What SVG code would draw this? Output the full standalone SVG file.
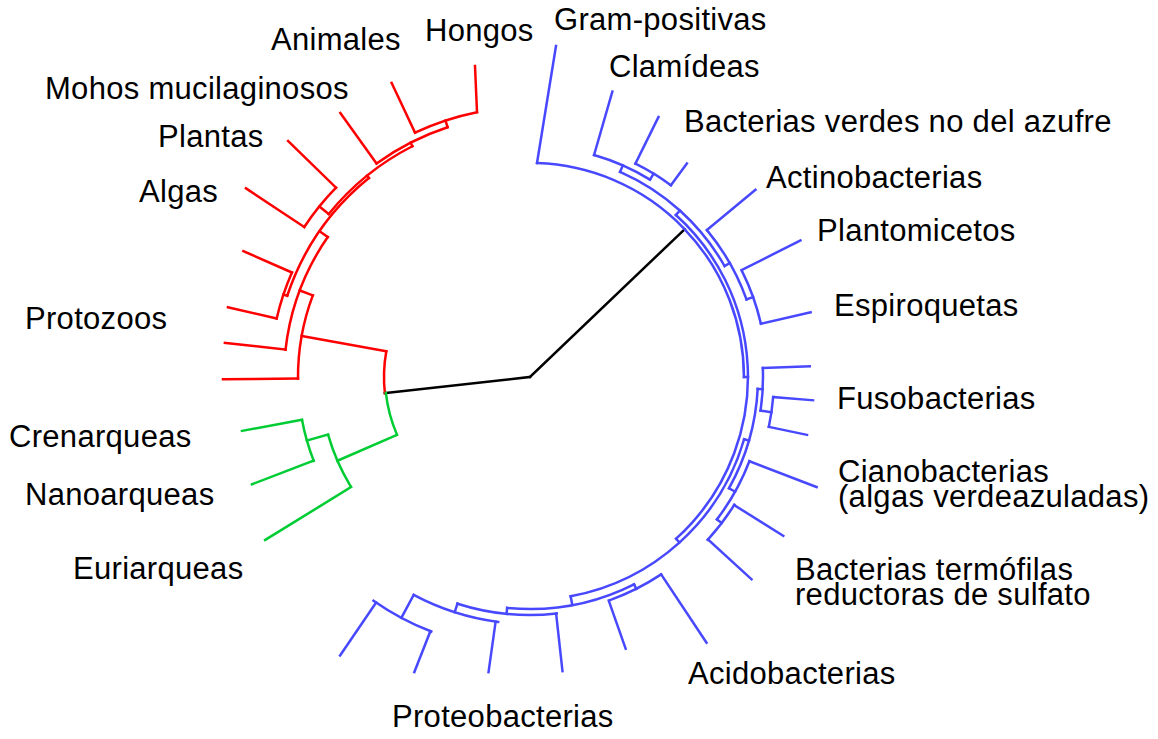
<svg xmlns="http://www.w3.org/2000/svg" width="1158" height="739" viewBox="0 0 1158 739">
<style>
.t{font-family:"Liberation Sans",Arial,sans-serif;font-size:31px;fill:#000;letter-spacing:0.3px}
.red{stroke:#ff0000}
.grn{stroke:#00cc33}
.blu{stroke:#4848ff}
.blk{stroke:#000}
</style>
<rect width="1158" height="739" fill="#fff"/>
<g id="connectors" transform="translate(530 377)" fill="none" stroke-width="2.5" stroke-linecap="square">
<g class="blk">
<line x1="0" x2="146" transform="rotate(173.7)"/>
<line x1="0" x2="214" transform="rotate(316.3)"/>
</g>
<g class="red">
<path pathLength="360" stroke-dasharray="16.5 999" transform="rotate(173.7)" d="M146 0A146 146 0 0 1 -146 0A146 146 0 0 1 146 0"/>
<line x1="146" x2="232" transform="rotate(190.2)"/>
<path pathLength="360" stroke-dasharray="21 999" transform="rotate(179.6)" d="M232 0A232 232 0 0 1 -232 0A232 232 0 0 1 232 0"/>
<line x1="232" x2="307" transform="rotate(179.6)"/>
<line x1="232" x2="246" transform="rotate(200.6)"/>
<path pathLength="360" stroke-dasharray="28.3 999" transform="rotate(186.4)" d="M246 0A246 246 0 0 1 -246 0A246 246 0 0 1 246 0"/>
<line x1="246" x2="307" transform="rotate(186.4)"/>
<line x1="246" x2="256" transform="rotate(214.7)"/>
<path pathLength="360" stroke-dasharray="32.5 999" transform="rotate(198.5)" d="M256 0A256 256 0 0 1 -256 0A256 256 0 0 1 256 0"/>
<line x1="256" x2="260" transform="rotate(198.5)"/>
<path pathLength="360" stroke-dasharray="10.7 999" transform="rotate(193)" d="M260 0A260 260 0 0 1 -260 0A260 260 0 0 1 260 0"/>
<line x1="260" x2="310" transform="rotate(193)"/>
<line x1="260" x2="313" transform="rotate(203.7)"/>
<line x1="256" x2="259" transform="rotate(231)"/>
<path pathLength="360" stroke-dasharray="24 999" transform="rotate(219)" d="M259 0A259 259 0 0 1 -259 0A259 259 0 0 1 259 0"/>
<line x1="259" x2="271" transform="rotate(219)"/>
<path pathLength="360" stroke-dasharray="10.7 999" transform="rotate(213.6)" d="M271 0A271 271 0 0 1 -271 0A271 271 0 0 1 271 0"/>
<line x1="271" x2="341" transform="rotate(213.6)"/>
<line x1="271" x2="338" transform="rotate(224.3)"/>
<line x1="259" x2="263" transform="rotate(243)"/>
<path pathLength="360" stroke-dasharray="17.45 999" transform="rotate(234.3)" d="M263 0A263 263 0 0 1 -263 0A263 263 0 0 1 263 0"/>
<line x1="263" x2="325" transform="rotate(234.3)"/>
<line x1="263" x2="270" transform="rotate(251.75)"/>
<path pathLength="360" stroke-dasharray="13.9 999" transform="rotate(244.8)" d="M270 0A270 270 0 0 1 -270 0A270 270 0 0 1 270 0"/>
<line x1="270" x2="325" transform="rotate(244.8)"/>
</g>
<g class="grn">
<path pathLength="360" stroke-dasharray="16.9 999" transform="rotate(156.8)" d="M145 0A145 145 0 0 1 -145 0A145 145 0 0 1 145 0"/>
<line x1="145" x2="210" transform="rotate(156.5)"/>
<path pathLength="360" stroke-dasharray="15.2 999" transform="rotate(148.8)" d="M210 0A210 210 0 0 1 -210 0A210 210 0 0 1 210 0"/>
<line x1="210" x2="311" transform="rotate(148.4)"/>
<line x1="210" x2="232" transform="rotate(164.1)"/>
<path pathLength="360" stroke-dasharray="10.5 999" transform="rotate(158.8)" d="M232 0A232 232 0 0 1 -232 0A232 232 0 0 1 232 0"/>
<line x1="232" x2="293" transform="rotate(169.4)"/>
<line x1="232" x2="298" transform="rotate(158.9)"/>
</g>
<g class="blu">
<path pathLength="360" stroke-dasharray="88.1 999" transform="rotate(271.9)" d="M214 0A214 214 0 0 1 -214 0A214 214 0 0 1 214 0"/>
<line x1="214" x2="218" transform="rotate(0)"/>
<path pathLength="360" stroke-dasharray="95.9 999" transform="rotate(312)" d="M218 0A218 218 0 0 1 -218 0A218 218 0 0 1 218 0"/>
<line x1="218" x2="224" transform="rotate(312)"/>
<path pathLength="360" stroke-dasharray="36.6 999" transform="rotate(293.7)" d="M224 0A224 224 0 0 1 -224 0A224 224 0 0 1 224 0"/>
<line x1="224" x2="231" transform="rotate(293.7)"/>
<path pathLength="360" stroke-dasharray="15.2 999" transform="rotate(286.1)" d="M231 0A231 231 0 0 1 -231 0A231 231 0 0 1 231 0"/>
<line x1="231" x2="297" transform="rotate(286.1)"/>
<line x1="231" x2="238" transform="rotate(301.3)"/>
<path pathLength="360" stroke-dasharray="10 999" transform="rotate(296.3)" d="M238 0A238 238 0 0 1 -238 0A238 238 0 0 1 238 0"/>
<line x1="238" x2="290" transform="rotate(296.3)"/>
<line x1="238" x2="265" transform="rotate(306.3)"/>
<line x1="224" x2="230" transform="rotate(330.3)"/>
<path pathLength="360" stroke-dasharray="20 999" transform="rotate(320.3)" d="M230 0A230 230 0 0 1 -230 0A230 230 0 0 1 230 0"/>
<line x1="230" x2="293" transform="rotate(320.3)"/>
<line x1="230" x2="237" transform="rotate(340.3)"/>
<path pathLength="360" stroke-dasharray="13.6 999" transform="rotate(333.4)" d="M237 0A237 237 0 0 1 -237 0A237 237 0 0 1 237 0"/>
<line x1="237" x2="303" transform="rotate(333.2)"/>
<line x1="237" x2="288" transform="rotate(347)"/>
<line x1="218" x2="223" transform="rotate(47.9)"/>
<path pathLength="360" stroke-dasharray="63.3 999" transform="rotate(16.2)" d="M223 0A223 223 0 0 1 -223 0A223 223 0 0 1 223 0"/>
<line x1="223" x2="228" transform="rotate(16.2)"/>
<path pathLength="360" stroke-dasharray="26.2 999" transform="rotate(3)" d="M228 0A228 228 0 0 1 -228 0A228 228 0 0 1 228 0"/>
<line x1="228" x2="233" transform="rotate(3)"/>
<path pathLength="360" stroke-dasharray="10.5 999" transform="rotate(357.8)" d="M233 0A233 233 0 0 1 -233 0A233 233 0 0 1 233 0"/>
<line x1="233" x2="280" transform="rotate(357.8)"/>
<line x1="233" x2="244" transform="rotate(8.3)"/>
<path pathLength="360" stroke-dasharray="7.1 999" transform="rotate(4.7)" d="M244 0A244 244 0 0 1 -244 0A244 244 0 0 1 244 0"/>
<line x1="244" x2="284" transform="rotate(4.7)"/>
<line x1="244" x2="283" transform="rotate(11.8)"/>
<line x1="228" x2="235" transform="rotate(29.2)"/>
<path pathLength="360" stroke-dasharray="16.3 999" transform="rotate(21)" d="M235 0A235 235 0 0 1 -235 0A235 235 0 0 1 235 0"/>
<line x1="235" x2="307" transform="rotate(21)"/>
<line x1="235" x2="241" transform="rotate(37.3)"/>
<path pathLength="360" stroke-dasharray="10.5 999" transform="rotate(32)" d="M241 0A241 241 0 0 1 -241 0A241 241 0 0 1 241 0"/>
<line x1="241" x2="299" transform="rotate(32.1)"/>
<line x1="241" x2="300" transform="rotate(42.4)"/>
<line x1="223" x2="232" transform="rotate(79.5)"/>
<path pathLength="360" stroke-dasharray="32.3 999" transform="rotate(63.35)" d="M232 0A232 232 0 0 1 -232 0A232 232 0 0 1 232 0"/>
<line x1="232" x2="237" transform="rotate(63.35)"/>
<path pathLength="360" stroke-dasharray="13.9 999" transform="rotate(56.4)" d="M237 0A237 237 0 0 1 -237 0A237 237 0 0 1 237 0"/>
<line x1="237" x2="319" transform="rotate(56.4)"/>
<line x1="237" x2="288" transform="rotate(70.6)"/>
<line x1="232" x2="238" transform="rotate(95.65)"/>
<path pathLength="360" stroke-dasharray="24.2 999" transform="rotate(83.55)" d="M238 0A238 238 0 0 1 -238 0A238 238 0 0 1 238 0"/>
<line x1="238" x2="296" transform="rotate(83.7)"/>
<line x1="238" x2="247" transform="rotate(107.75)"/>
<path pathLength="360" stroke-dasharray="20.7 999" transform="rotate(97.4)" d="M247 0A247 247 0 0 1 -247 0A247 247 0 0 1 247 0"/>
<line x1="247" x2="298" transform="rotate(98)"/>
<line x1="247" x2="273" transform="rotate(118.1)"/>
<path pathLength="360" stroke-dasharray="13.8 999" transform="rotate(111.2)" d="M273 0A273 273 0 0 1 -273 0A273 273 0 0 1 273 0"/>
<line x1="273" x2="317" transform="rotate(111.4)"/>
<line x1="273" x2="337" transform="rotate(124.3)"/>
</g>
</g>
<g fill="none" stroke-width="2.5" stroke-linecap="square">
<path class="red" d="M477 112L475 66"/>
<path class="blu" d="M537 163L556 46"/>
</g>
<g id="labels">
<g id="n-animales"><text class="t" x="271" y="50">Animales</text></g>
<g id="n-hongos"><text class="t" x="425" y="41">Hongos</text></g>
<g id="n-grampos"><text class="t" x="554" y="30">Gram-positivas</text></g>
<g id="n-mohos"><text class="t" x="45" y="99">Mohos mucilaginosos</text></g>
<g id="n-clamideas"><text class="t" x="609" y="77">Clamídeas</text></g>
<g id="n-verdes"><text class="t" x="684" y="132">Bacterias verdes no del azufre</text></g>
<g id="n-plantas"><text class="t" x="158" y="147">Plantas</text></g>
<g id="n-actino"><text class="t" x="766" y="188">Actinobacterias</text></g>
<g id="n-algas"><text class="t" x="139" y="202">Algas</text></g>
<g id="n-planto"><text class="t" x="817" y="241">Plantomicetos</text></g>
<g id="n-espiro"><text class="t" x="834" y="316">Espiroquetas</text></g>
<g id="n-protozoos"><text class="t" x="25" y="329">Protozoos</text></g>
<g id="n-fuso"><text class="t" x="837" y="409">Fusobacterias</text></g>
<g id="n-cren"><text class="t" x="9" y="447">Crenarqueas</text></g>
<g id="n-ciano"><text class="t" x="838" y="482">Cianobacterias<tspan x="838" dy="25">(algas verdeazuladas)</tspan></text></g>
<g id="n-nano"><text class="t" x="25" y="505">Nanoarqueas</text></g>
<g id="n-euri"><text class="t" x="73" y="579">Euriarqueas</text></g>
<g id="n-termo"><text class="t" x="795" y="580">Bacterias termófilas<tspan x="795" dy="25">reductoras de sulfato</tspan></text></g>
<g id="n-acido"><text class="t" x="688" y="684">Acidobacterias</text></g>
<g id="n-proteo"><text class="t" x="392" y="727">Proteobacterias</text></g>
</g>
</svg>
